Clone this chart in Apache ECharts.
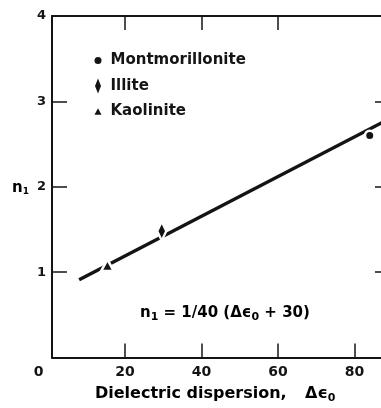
<!DOCTYPE html>
<html><head><meta charset="utf-8">
<script src="https://cdn.jsdelivr.net/npm/echarts@6/dist/echarts.min.js"></script>
<style>html,body{margin:0;padding:0;background:#fff}#c{width:381px;height:408px}</style>
</head><body><div id="c"></div>
<script>
// ---- data ----
const xTickValues = [0, 20, 40, 60, 80];
const yTickValues = [0, 1, 2, 3, 4];
const seriesNames = ['Montmorillonite', 'Illite', 'Kaolinite'];
const montmorilloniteX = [84.0];
const montmorilloniteY = [2.60];
const illiteX = [29.6];
const illiteY = [1.48];
const kaoliniteX = [15.4];
const kaoliniteY = [1.08];
const fitLineX = [8.0, 89.3];
const fitLineY = [0.91, 2.80];
const equationText = ['n', '1', ' = 1/40 (Δϵ', '0', ' + 30)'];
const xTitle = ['Dielectric dispersion,', 'Δϵ', '0'];
const yTitle = ['n', '1'];

// ---- helpers ----
const zip = (xs, ys) => xs.map((x, i) => [x, ys[i]]);
const FONT = 'DejaVu Sans';
const INK = '#141414';
const X_MIN = 0.9, X_MAX = 89.3;
const diamond = 'path://M0,-10L4,0L0,10L-4,0Z';
const triangle = 'path://M0,0L5.5,10L-5.5,10Z';

const chart = echarts.init(document.getElementById('c'), null, {renderer: 'canvas'});
const tickLabels = xTickValues.filter(v => v >= X_MIN && v <= X_MAX);
const axisLineStyle = {color: INK, width: 2};
const tickStyle = {color: INK, width: 1.5};
const markerStyle = {color: INK, opacity: 1, borderColor: '#fff', borderWidth: 2.5};

const option = {
  backgroundColor: '#fff',
  animation: false,
  textStyle: {fontFamily: FONT},
  grid: {left: 52, top: 16, right: -9, bottom: 50.5, outerBoundsMode: 'none', containLabel: false},
  xAxis: [
    {
      type: 'value', position: 'bottom', min: X_MIN, max: X_MAX,
      axisLine: {show: true, onZero: false, lineStyle: axisLineStyle},
      axisTick: {show: true, inside: true, length: 14, lineStyle: tickStyle, customValues: tickLabels},
      axisLabel: {show: true, customValues: tickLabels, margin: 8, color: INK, fontFamily: FONT, fontSize: 14, fontWeight: 'bold'},
      splitLine: {show: false}
    },
    {
      type: 'value', position: 'top', min: X_MIN, max: X_MAX,
      axisLine: {show: true, onZero: false, lineStyle: axisLineStyle},
      axisTick: {show: true, inside: true, length: 14, lineStyle: tickStyle, customValues: [20, 40, 60]},
      axisLabel: {show: false},
      splitLine: {show: false}
    }
  ],
  yAxis: [
    {
      type: 'value', position: 'left', min: 0, max: 4, interval: 1,
      axisLine: {show: true, onZero: false, lineStyle: axisLineStyle},
      axisTick: {show: true, inside: true, length: 15, lineStyle: tickStyle, customValues: [1, 2, 3]},
      axisLabel: {show: true, customValues: yTickValues.filter(v => v > 0), margin: 6, color: INK, fontFamily: FONT, fontSize: 13, fontWeight: 'bold'},
      splitLine: {show: false}
    },
    {
      type: 'value', position: 'right', min: 0, max: 4, interval: 1,
      axisLine: {show: true, onZero: false, lineStyle: axisLineStyle},
      axisTick: {show: true, inside: true, length: 15, lineStyle: tickStyle, customValues: [1, 2, 3]},
      axisLabel: {show: false},
      splitLine: {show: false}
    }
  ],
  legend: {
    orient: 'vertical', left: 94.5, top: 53, padding: 0,
    itemWidth: 7, itemHeight: 15, itemGap: 10.5,
    itemStyle: {borderWidth: 0, opacity: 1, color: INK},
    textStyle: {fontFamily: FONT, fontSize: 15, fontWeight: 'bold', color: INK, padding: [0, 0, 0, 4]},
    data: [
      {name: seriesNames[0], icon: 'circle'},
      {name: seriesNames[1], icon: diamond},
      {name: seriesNames[2], icon: triangle}
    ]
  },
  series: [
    {
      name: 'fit', type: 'line', data: zip(fitLineX, fitLineY), symbol: 'none', z: 2,
      lineStyle: {color: INK, width: 3.5}, clip: true, silent: true
    },
    {
      name: seriesNames[0], type: 'scatter', data: zip(montmorilloniteX, montmorilloniteY),
      symbol: 'circle', symbolSize: 9.5, z: 3, itemStyle: markerStyle
    },
    {
      name: seriesNames[1], type: 'scatter', data: zip(illiteX, illiteY),
      symbol: diamond, symbolSize: [9, 19], z: 3, itemStyle: markerStyle
    },
    {
      name: seriesNames[2], type: 'scatter', data: zip(kaoliniteX, kaoliniteY),
      symbol: triangle, symbolSize: [12.5, 11.5], z: 3, itemStyle: markerStyle
    }
  ]
};
chart.setOption(option);

const rich = (main, sub, drop) => ({
  m: {fontFamily: FONT, fontSize: main, fontWeight: 'bold', color: INK, lineHeight: 20},
  s: {fontFamily: FONT, fontSize: sub, fontWeight: 'bold', color: INK, lineHeight: 20, padding: [drop, 0, 0, 0]}
});
const zeroPx = chart.convertToPixel({xAxisIndex: 0}, xTickValues[0]);
chart.setOption({
  graphic: [
    {type: 'text', x: zeroPx - 10, y: 372, z: 10,
      style: {text: String(xTickValues[0]), fontFamily: FONT, fontSize: 14, fontWeight: 'bold', fill: INK, align: 'center', verticalAlign: 'middle'}},
    {type: 'text', x: 12, y: 188, z: 10,
      style: {text: '{m|' + yTitle[0] + '}{s|' + yTitle[1] + '}', rich: rich(15, 9, 8), align: 'left', verticalAlign: 'middle'}},
    {type: 'text', x: 140, y: 313, z: 10,
      style: {text: '{m|' + equationText[0] + '}{s|' + equationText[1] + '}{m|' + equationText[2] + '}{s|' + equationText[3] + '}{m|' + equationText[4] + '}',
        rich: rich(15, 11, 8), align: 'left', verticalAlign: 'middle'}},
    {type: 'text', x: 95, y: 394, z: 10,
      style: {text: '{m|' + xTitle[0] + '}', rich: rich(16, 11, 9), align: 'left', verticalAlign: 'middle'}},
    {type: 'text', x: 305, y: 394, z: 10,
      style: {text: '{m|' + xTitle[1] + '}{s|' + xTitle[2] + '}', rich: rich(16, 11, 9), align: 'left', verticalAlign: 'middle'}}
  ]
});
</script></body></html>
